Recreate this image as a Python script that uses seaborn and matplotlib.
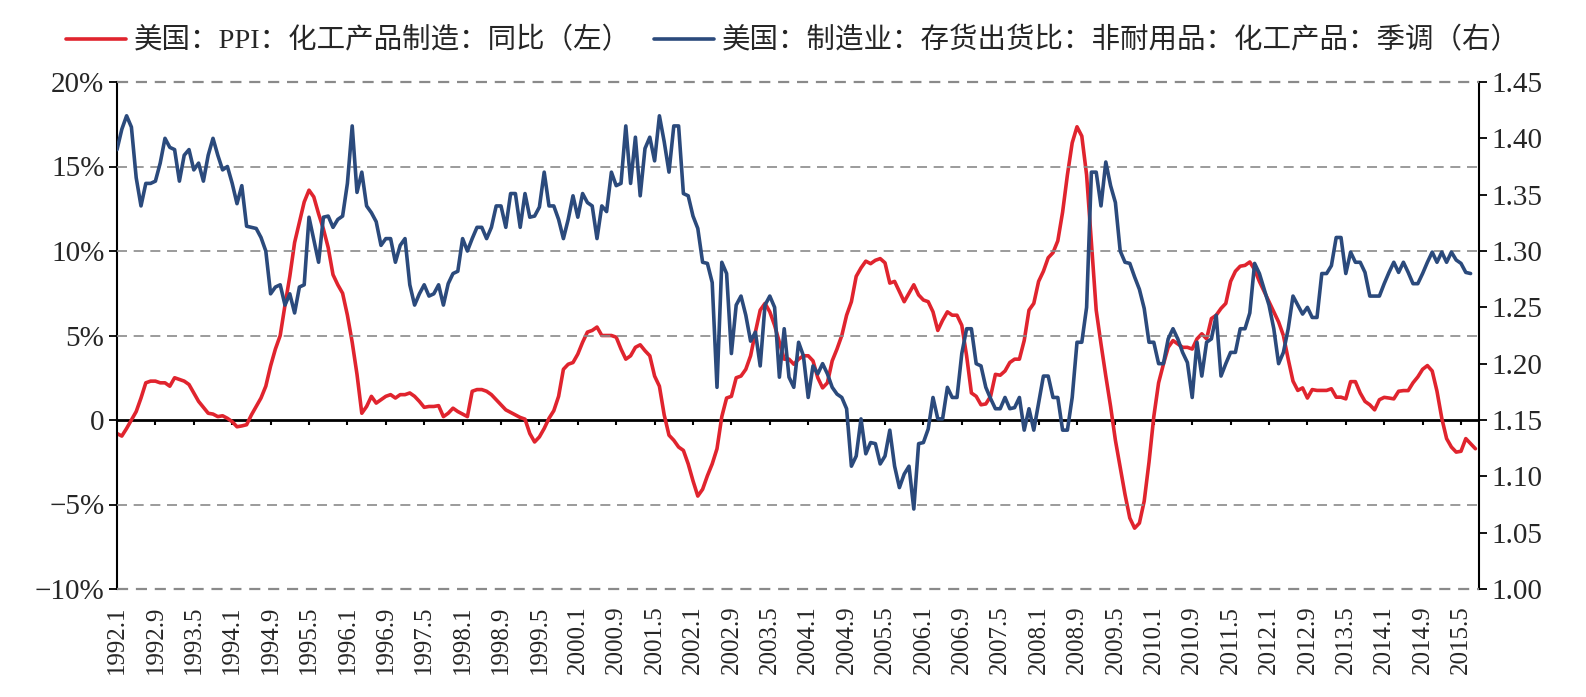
import numpy as np
import pandas as pd
import matplotlib
matplotlib.use("Agg")
import matplotlib.pyplot as plt
import seaborn as sns
from matplotlib.ticker import FixedLocator, FuncFormatter

# ---------------- data ----------------
months = [f"{y}.{m}" for y in range(1992, 2016) for m in range(1, 13)][:284]

# 美国：PPI：化工产品制造：同比 (%), 1992.1 - 2015.8
ppi_yoy = [
    -0.8, -0.95, -0.5, 0.0, 0.5, 1.3, 2.2, 2.3, 2.3, 2.2,
    2.2, 2.0, 2.5, 2.4, 2.3, 2.1, 1.6, 1.1, 0.75, 0.4,
    0.35, 0.2, 0.25, 0.1, -0.1, -0.4, -0.35, -0.28, 0.3, 0.8,
    1.3, 2.0, 3.2, 4.2, 5.0, 6.8, 8.5, 10.5, 11.7, 12.9,
    13.6, 13.2, 12.2, 11.3, 10.2, 8.6, 8.0, 7.5, 6.2, 4.6,
    2.7, 0.4, 0.8, 1.4, 1.0, 1.2, 1.4, 1.5, 1.3, 1.5,
    1.5, 1.6, 1.4, 1.1, 0.75, 0.8, 0.8, 0.85, 0.2, 0.4,
    0.7, 0.5, 0.35, 0.2, 1.7, 1.8, 1.8, 1.7, 1.5, 1.2,
    0.9, 0.6, 0.45, 0.3, 0.15, 0.05, -0.8, -1.3, -1.0, -0.5,
    0.1, 0.55, 1.4, 3.0, 3.3, 3.4, 3.9, 4.6, 5.2, 5.3,
    5.5, 5.0, 5.0, 5.0, 4.9, 4.2, 3.6, 3.8, 4.3, 4.45,
    4.1, 3.8, 2.6, 2.0, 0.3, -0.9, -1.2, -1.6, -1.8, -2.6,
    -3.6, -4.5, -4.1, -3.3, -2.6, -1.7, 0.2, 1.3, 1.4, 2.5,
    2.6, 3.0, 3.8, 5.2, 6.5, 6.9, 6.4, 5.6, 4.6, 3.6,
    3.6, 3.3, 3.6, 3.8, 3.8, 3.5, 2.5, 1.9, 2.2, 3.5,
    4.2, 5.0, 6.2, 7.0, 8.5, 9.0, 9.4, 9.25, 9.45, 9.55,
    9.3, 8.1, 8.2, 7.6, 7.0, 7.5, 8.0, 7.4, 7.1, 7.0,
    6.4, 5.3, 5.9, 6.4, 6.2, 6.2, 5.6, 3.8, 1.6, 1.4,
    0.9, 0.95, 1.4, 2.7, 2.65, 2.9, 3.4, 3.6, 3.6, 4.7,
    6.5, 6.9, 8.2, 8.8, 9.6, 9.9, 10.6, 12.3, 14.5, 16.4,
    17.35, 16.8, 14.5, 10.5, 6.5, 4.5, 2.6, 0.8, -1.2, -2.8,
    -4.4, -5.8, -6.4, -6.1, -4.8, -2.5, 0.2, 2.2, 3.3, 4.3,
    4.7, 4.5, 4.3, 4.3, 4.2, 4.8, 5.1, 4.8, 6.0, 6.2,
    6.6, 6.9, 8.2, 8.8, 9.1, 9.15, 9.35, 8.9, 8.2, 7.6,
    7.0, 6.4, 5.8, 5.0, 3.6, 2.3, 1.75, 1.9, 1.3, 1.8,
    1.75, 1.75, 1.75, 1.85, 1.35, 1.35, 1.25, 2.27, 2.27, 1.6,
    1.1, 0.9, 0.6, 1.2, 1.34, 1.3, 1.25, 1.7, 1.74, 1.74,
    2.2, 2.55, 3.0, 3.22, 2.9, 1.7, 0.1, -1.1, -1.6, -1.9,
    -1.85, -1.1, -1.4, -1.7,
]

# 美国：制造业：存货出货比：非耐用品：化工产品：季调, 1992.1 - 2015.7
inv_ratio = [
    1.390, 1.408, 1.420, 1.410, 1.365, 1.340, 1.360, 1.360, 1.362, 1.378,
    1.400, 1.392, 1.390, 1.362, 1.385, 1.390, 1.372, 1.378, 1.362, 1.385,
    1.400, 1.385, 1.372, 1.375, 1.360, 1.342, 1.358, 1.322, 1.321, 1.320,
    1.312, 1.300, 1.262, 1.268, 1.270, 1.252, 1.262, 1.245, 1.268, 1.270,
    1.330, 1.310, 1.290, 1.330, 1.331, 1.321, 1.328, 1.331, 1.360, 1.411,
    1.352, 1.370, 1.340, 1.334, 1.326, 1.305, 1.311, 1.311, 1.290, 1.305,
    1.311, 1.270, 1.252, 1.262, 1.270, 1.260, 1.262, 1.270, 1.252, 1.271,
    1.280, 1.282, 1.311, 1.300, 1.311, 1.321, 1.321, 1.311, 1.321, 1.340,
    1.340, 1.321, 1.351, 1.351, 1.321, 1.351, 1.330, 1.331, 1.339, 1.370,
    1.340, 1.340, 1.328, 1.311, 1.328, 1.349, 1.330, 1.351, 1.343, 1.340,
    1.311, 1.340, 1.335, 1.370, 1.358, 1.360, 1.411, 1.360, 1.401, 1.349,
    1.391, 1.401, 1.380, 1.420, 1.397, 1.370, 1.411, 1.411, 1.351, 1.349,
    1.331, 1.320, 1.290, 1.289, 1.272, 1.179, 1.290, 1.280, 1.209, 1.252,
    1.260, 1.243, 1.220, 1.228, 1.198, 1.252, 1.260, 1.250, 1.188, 1.231,
    1.188, 1.179, 1.219, 1.207, 1.170, 1.198, 1.191, 1.200, 1.191, 1.179,
    1.173, 1.170, 1.160, 1.109, 1.118, 1.151, 1.120, 1.130, 1.129, 1.111,
    1.118, 1.141, 1.109, 1.090, 1.102, 1.109, 1.071, 1.129, 1.130, 1.142,
    1.170, 1.151, 1.151, 1.179, 1.170, 1.170, 1.209, 1.231, 1.231, 1.200,
    1.198, 1.179, 1.169, 1.160, 1.160, 1.170, 1.160, 1.161, 1.170, 1.141,
    1.160, 1.141, 1.165, 1.189, 1.189, 1.170, 1.170, 1.141, 1.141, 1.170,
    1.219, 1.219, 1.250, 1.370, 1.370, 1.340, 1.379, 1.358, 1.343, 1.300,
    1.290, 1.289, 1.277, 1.266, 1.249, 1.219, 1.219, 1.200, 1.200, 1.222,
    1.231, 1.222, 1.210, 1.201, 1.170, 1.219, 1.189, 1.219, 1.222, 1.243,
    1.189, 1.200, 1.210, 1.210, 1.231, 1.231, 1.245, 1.289, 1.280, 1.266,
    1.252, 1.231, 1.200, 1.210, 1.231, 1.260, 1.252, 1.244, 1.250, 1.241,
    1.241, 1.280, 1.280, 1.287, 1.312, 1.312, 1.280, 1.299, 1.290, 1.290,
    1.281, 1.260, 1.260, 1.260, 1.271, 1.281, 1.290, 1.281, 1.290, 1.281,
    1.271, 1.271, 1.280, 1.290, 1.299, 1.290, 1.299, 1.290, 1.299, 1.292,
    1.289, 1.281, 1.280,
]

legend_labels = ["美国：PPI：化工产品制造：同比（左）",
                 "美国：制造业：存货出货比：非耐用品：化工产品：季调（右）"]
left_ticks = [-10, -5, 0, 5, 10, 15, 20]
right_ticks = [1.00, 1.05, 1.10, 1.15, 1.20, 1.25, 1.30, 1.35, 1.40, 1.45]
label_step = 8

RED = "#E0242E"
BLUE = "#2B4A7C"
GRID = "#8A8A8A"

# ---------------- style ----------------
sns.set_theme(style="white")
plt.rcParams["font.family"] = ["Liberation Serif", "Noto Sans CJK SC", "DejaVu Sans"]
plt.rcParams["axes.unicode_minus"] = True

fig = plt.figure(figsize=(15.86, 6.97), dpi=100)
ax = fig.add_axes([117 / 1586, 1 - 589 / 697, (1479 - 117) / 1586, (589 - 82) / 697])
ax2 = ax.twinx()

df_red = pd.DataFrame({"idx": np.arange(len(ppi_yoy)), "val": ppi_yoy})
df_blue = pd.DataFrame({"idx": np.arange(len(inv_ratio)), "val": inv_ratio})

sns.lineplot(data=df_red, x="idx", y="val", ax=ax, color=RED, linewidth=2.6,
             label=legend_labels[0], legend=False)
sns.lineplot(data=df_blue, x="idx", y="val", ax=ax2, color=BLUE, linewidth=2.6,
             label=legend_labels[1], legend=False, zorder=3)

n_cat = len(ppi_yoy)
ax.set_xlim(0, n_cat - 0.25)
ax.set_ylim(-10, 20)
ax2.set_ylim(1.00, 1.45)

# dashed reference lines at the left-axis ticks (zero is the solid category axis)
ytrans = ax.get_yaxis_transform()
for t in left_ticks:
    if t != 0:
        edge = t in (left_ticks[0], left_ticks[-1])
        ax2.plot([0, 1], [t, t], transform=ytrans, color=GRID,
                 linestyle=(0, (5, 3.5)) if edge else (0, (6, 4)),
                 linewidth=1.6 if edge else 1.2,
                 zorder=10 if edge else 1, clip_on=False)

# y axes ticks
ax.yaxis.set_major_locator(FixedLocator(left_ticks))
ax.yaxis.set_major_formatter(FuncFormatter(
    lambda v, p: "0" if abs(v) < 1e-9 else (f"{v:.0f}%".replace("-", "\u2212"))))
ax2.yaxis.set_major_locator(FixedLocator(right_ticks))
ax2.yaxis.set_major_formatter(FuncFormatter(lambda v, p: f"{v:.2f}"))

# x labels
tick_pos = np.arange(0, n_cat, label_step)
ax.set_xticks(tick_pos)
ax.set_xticklabels([months[i] for i in tick_pos], rotation=90)
ax.tick_params(axis="x", length=0, pad=12, labelsize=18)
ax.tick_params(axis="y", direction="out", length=6, width=1.3, color="black",
               labelsize=21, pad=3, left=True)
ax2.tick_params(axis="y", direction="out", length=6, width=1.3, color="black",
                labelsize=21, pad=3, right=True)
ax.set_xlabel("")
ax.set_ylabel("")
ax2.set_ylabel("")
ax.grid(False)
ax2.grid(False)

# spines
for a in (ax, ax2):
    for s in ("top", "bottom"):
        a.spines[s].set_visible(False)
ax.spines["left"].set_color("black")
ax.spines["left"].set_linewidth(1.5)
ax.spines["right"].set_visible(False)
ax2.spines["left"].set_visible(False)
ax2.spines["right"].set_color("black")
ax2.spines["right"].set_linewidth(1.5)

# zero line (category axis crossing at 0) with tick marks
ax.axhline(0, color="black", linewidth=2, zorder=1.5)
zero_ticks = np.arange(label_step, n_cat, label_step)
ax.vlines(zero_ticks, -0.32, 0, color="black", linewidth=1.5, zorder=1.5)

# legend
h1, l1 = ax.get_legend_handles_labels()
h2, l2 = ax2.get_legend_handles_labels()
h1 = [h for h, l in zip(h1, l1) if l == legend_labels[0]]
h2 = [h for h, l in zip(h2, l2) if l == legend_labels[1]]
fig.legend(h1 + h2, legend_labels, loc="center", bbox_to_anchor=(0.5, 1 - 41 / 697),
           ncol=2, frameon=False, fontsize=20.5, handlelength=2.1,
           handletextpad=0.3, columnspacing=0.8)

fig.savefig("out.png", dpi=100, facecolor="white")
